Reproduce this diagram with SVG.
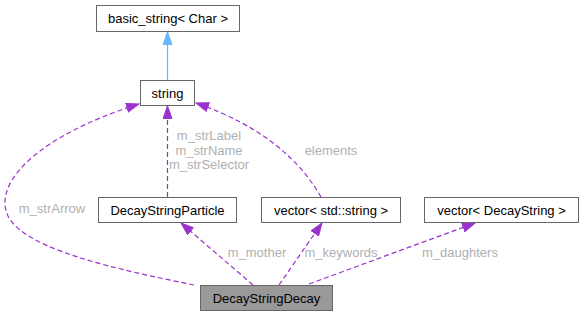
<svg xmlns="http://www.w3.org/2000/svg" width="583" height="316" viewBox="0 0 583 316">
<style>
.node rect{fill:#ffffff;stroke:#666666;stroke-width:1}
.node.cur rect{fill:#999999}
.node text{font-family:"Liberation Sans",Arial,sans-serif;font-size:13px;fill:#000000;text-anchor:middle}
.lbl{font-family:"Liberation Sans",Arial,sans-serif;font-size:13px;fill:#b0b0b0;text-anchor:middle}
.edge{fill:none;stroke:#9a32cd;stroke-width:1.2;stroke-dasharray:5,3;marker-end:url(#ap)}
.inh{fill:none;stroke:#63b8ff;stroke-width:1.2;marker-end:url(#ab)}
</style>
<defs>
<marker id="ap" markerUnits="userSpaceOnUse" markerWidth="14" markerHeight="11" refX="13" refY="5" orient="auto" viewBox="0 0 14 11">
<path d="M0.5,0.5 L13,5 L0.5,9.5 z" fill="#9a32cd" stroke="#9a32cd" stroke-width="1"/>
</marker>
<marker id="ab" markerUnits="userSpaceOnUse" markerWidth="14" markerHeight="11" refX="13" refY="5" orient="auto" viewBox="0 0 14 11">
<path d="M0.5,0.5 L13,5 L0.5,9.5 z" fill="#63b8ff" stroke="#63b8ff" stroke-width="1"/>
</marker>
</defs>
<g id="edges">
<path class="inh" d="M167.5,80 L167.5,32"/>
<path class="edge" d="M167.5,197 L167.5,106"/>
<path class="edge" d="M194,285 C120,270 25,250 8,216 C-8,182 40,135 139,104"/>
<path class="edge" d="M321,197 C300,160 262,126 196,103"/>
<path class="edge" d="M253,285 L181,223"/>
<path class="edge" d="M279,285 L322,223"/>
<path class="edge" d="M309,284 L475,223"/>
<text class="lbl" x="209" y="140">m_strLabel</text>
<text class="lbl" x="209" y="155">m_strName</text>
<text class="lbl" x="209" y="169">m_strSelector</text>
<text class="lbl" x="331" y="155">elements</text>
<text class="lbl" x="52" y="213">m_strArrow</text>
<text class="lbl" x="257" y="257">m_mother</text>
<text class="lbl" x="341" y="257">m_keywords</text>
<text class="lbl" x="460" y="257">m_daughters</text>
</g>
<g id="basic_string" class="node"><rect x="96.5" y="5.5" width="143" height="26"/><text x="168" y="23">basic_string&lt; Char &gt;</text></g>
<g id="string" class="node"><rect x="140.5" y="80.5" width="54" height="25"/><text x="167.5" y="97.5">string</text></g>
<g id="DecayStringParticle" class="node"><rect x="98.5" y="197.5" width="138" height="25"/><text x="167.5" y="214.5">DecayStringParticle</text></g>
<g id="vector_std_string" class="node"><rect x="261.5" y="197.5" width="139" height="25"/><text x="331" y="214.5">vector&lt; std::string &gt;</text></g>
<g id="vector_DecayString" class="node"><rect x="424.5" y="197.5" width="154" height="25"/><text x="501.5" y="214.5">vector&lt; DecayString &gt;</text></g>
<g id="DecayStringDecay" class="node cur"><rect x="200.5" y="285.5" width="132" height="25"/><text x="266.5" y="302.5">DecayStringDecay</text></g>
</svg>
